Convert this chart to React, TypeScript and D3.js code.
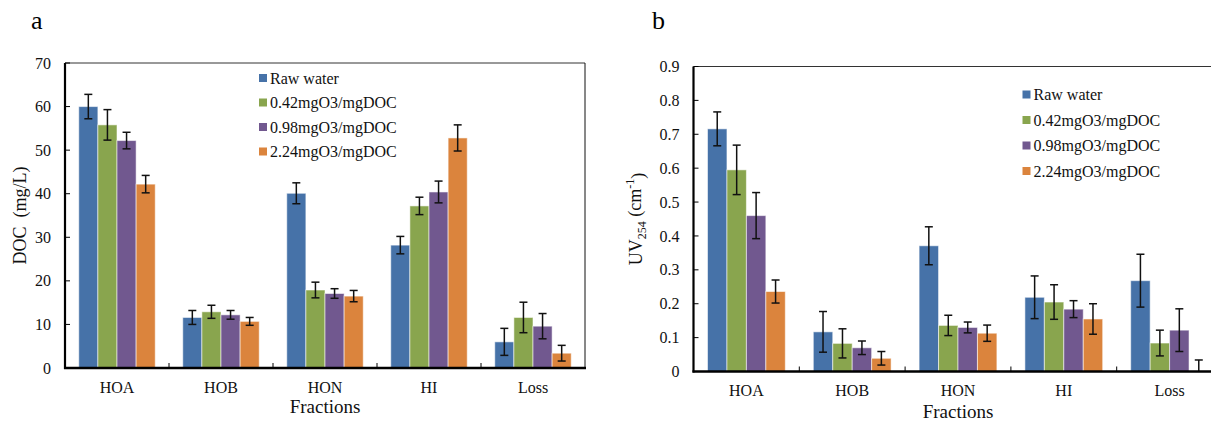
import React, { useEffect, useRef } from "react";
import * as d3 from "d3";

const categories = ["HOA", "HOB", "HON", "HI", "Loss"];
const seriesNames = [
  "Raw water",
  "0.42mgO3/mgDOC",
  "0.98mgO3/mgDOC",
  "2.24mgO3/mgDOC",
];
const seriesColors = ["#4672a8", "#89a54e", "#71588f", "#db843d"];

// panel a: DOC (mg/L), one row per series, one value per category
const docValues = [
  [60.0, 11.6, 40.1, 28.2, 6.0],
  [55.8, 12.9, 17.9, 37.2, 11.6],
  [52.2, 12.2, 17.1, 40.4, 9.6],
  [42.2, 10.7, 16.5, 52.8, 3.4],
];
const docErrors = [
  [2.8, 1.6, 2.4, 2.0, 3.1],
  [3.5, 1.5, 1.8, 2.0, 3.5],
  [1.9, 1.0, 1.1, 2.5, 2.9],
  [2.0, 0.9, 1.3, 3.0, 1.8],
];
const docTicks = [0, 10, 20, 30, 40, 50, 60, 70];

// panel b: UV254 (cm-1)
const uvValues = [
  [0.716, 0.117, 0.371, 0.219, 0.268],
  [0.595, 0.083, 0.136, 0.205, 0.084],
  [0.46, 0.07, 0.13, 0.184, 0.122],
  [0.236, 0.039, 0.113, 0.155, 0.0],
];
const uvErrors = [
  [0.05, 0.06, 0.056, 0.063, 0.078],
  [0.073, 0.043, 0.03, 0.051, 0.038],
  [0.068, 0.02, 0.016, 0.025, 0.063],
  [0.034, 0.02, 0.024, 0.045, 0.034],
];
const uvTicks = [0, 0.1, 0.2, 0.3, 0.4, 0.5, 0.6, 0.7, 0.8, 0.9];

const FONT = "'Liberation Serif', 'Times New Roman', serif";

type Panel = {
  left: number;
  top: number;
  width: number;
  height: number;
  values: number[][];
  errors: number[][];
  ticks: number[];
  tickFormat: (d: number) => string;
  letter: string;
  letterX: number;
  letterY: number;
  legendX: number;
  legendY: number;
  legendStep: number;
  labelX: number;
  rightBorder: boolean;
  fractionsDy: number;
  yLabel: (t: d3.Selection<SVGTextElement, unknown, null, undefined>) => void;
};

function drawPanel(svg: d3.Selection<SVGSVGElement, unknown, null, undefined>, p: Panel) {
  const g = svg.append("g").attr("transform", `translate(${p.left},${p.top})`);

  const x0 = d3.scaleBand<string>().domain(categories).range([0, p.width]);
  const x1 = d3
    .scaleBand<string>()
    .domain(seriesNames)
    .range([0, x0.bandwidth()])
    .paddingInner(0)
    .paddingOuter(0.72);
  const yMax = p.ticks[p.ticks.length - 1];
  const y = d3.scaleLinear().domain([0, yMax]).range([p.height, 0]);

  // bars
  seriesNames.forEach((name, si) => {
    g.append("g")
      .selectAll("rect")
      .data(categories)
      .enter()
      .append("rect")
      .attr("x", (c) => (x0(c) as number) + (x1(name) as number))
      .attr("y", (c, ci) => y(p.values[si][ci]))
      .attr("width", x1.bandwidth())
      .attr("height", (c, ci) => p.height - y(p.values[si][ci]))
      .attr("fill", seriesColors[si])
      .attr("stroke", "rgba(255,255,255,0.55)")
      .attr("stroke-width", 1);
  });

  // error bars
  seriesNames.forEach((name, si) => {
    const eg = g.append("g").attr("stroke", "#111").attr("stroke-width", 1.5);
    categories.forEach((c, ci) => {
      const cx = (x0(c) as number) + (x1(name) as number) + x1.bandwidth() / 2;
      const v = p.values[si][ci];
      const e = p.errors[si][ci];
      const yt = y(v + e);
      const yb = y(Math.max(0, v - e));
      eg.append("line").attr("x1", cx).attr("x2", cx).attr("y1", yt).attr("y2", yb);
      eg.append("line").attr("x1", cx - 4).attr("x2", cx + 4).attr("y1", yt).attr("y2", yt);
      if (v - e > 0) {
        eg.append("line").attr("x1", cx - 4).attr("x2", cx + 4).attr("y1", yb).attr("y2", yb);
      }
    });
  });

  // frame: thin top / right, heavy left / bottom
  g.append("line")
    .attr("x1", 0)
    .attr("x2", p.width)
    .attr("y1", 0)
    .attr("y2", 0)
    .attr("stroke", "#333")
    .attr("stroke-width", 1);
  if (p.rightBorder) {
    g.append("line")
      .attr("x1", p.width)
      .attr("x2", p.width)
      .attr("y1", 0)
      .attr("y2", p.height)
      .attr("stroke", "#111")
      .attr("stroke-width", 1);
  }

  // y ticks (inward) and labels
  g.selectAll(".ytick")
    .data(p.ticks)
    .enter()
    .append("line")
    .attr("x1", 0)
    .attr("x2", 5)
    .attr("y1", (d) => y(d))
    .attr("y2", (d) => y(d))
    .attr("stroke", "#000")
    .attr("stroke-width", 1);
  g.selectAll(".ylab")
    .data(p.ticks)
    .enter()
    .append("text")
    .attr("x", -14)
    .attr("y", (d) => y(d))
    .attr("dy", "0.35em")
    .attr("text-anchor", "end")
    .style("font-family", FONT)
    .style("font-size", "16px")
    .attr("fill", "#111")
    .text((d) => p.tickFormat(d));

  // x category boundary ticks (inward)
  g.selectAll(".xtick")
    .data(categories.slice(1))
    .enter()
    .append("line")
    .attr("x1", (c) => x0(c) as number)
    .attr("x2", (c) => x0(c) as number)
    .attr("y1", p.height)
    .attr("y2", p.height - 5)
    .attr("stroke", "#000")
    .attr("stroke-width", 1);
  g.selectAll(".xlab")
    .data(categories)
    .enter()
    .append("text")
    .attr("x", (c) => (x0(c) as number) + x0.bandwidth() / 2)
    .attr("y", p.height + 19)
    .attr("dy", "0.35em")
    .attr("text-anchor", "middle")
    .style("font-family", FONT)
    .style("font-size", "16px")
    .attr("fill", "#111")
    .text((c) => c);

  // axis lines
  g.append("line")
    .attr("x1", 0)
    .attr("x2", 0)
    .attr("y1", 0)
    .attr("y2", p.height + 1)
    .attr("stroke", "#000")
    .attr("stroke-width", 2.2);
  g.append("line")
    .attr("x1", -1)
    .attr("x2", p.width + 1)
    .attr("y1", p.height)
    .attr("y2", p.height)
    .attr("stroke", "#000")
    .attr("stroke-width", 2.4);

  // x title
  g.append("text")
    .attr("x", p.width / 2)
    .attr("y", p.height + p.fractionsDy)
    .attr("dy", "0.35em")
    .attr("text-anchor", "middle")
    .style("font-family", FONT)
    .style("font-size", "19px")
    .attr("fill", "#111")
    .text("Fractions");

  // y title
  const yt = svg
    .append("text")
    .attr("transform", `translate(${p.labelX},${p.top + p.height / 2}) rotate(-90)`)
    .attr("text-anchor", "middle")
    .attr("dy", "0.35em")
    .style("font-family", FONT)
    .style("font-size", "18px")
    .attr("fill", "#111");
  p.yLabel(yt);

  // panel letter
  svg
    .append("text")
    .attr("x", p.letterX)
    .attr("y", p.letterY)
    .style("font-family", FONT)
    .style("font-size", "26px")
    .attr("fill", "#000")
    .text(p.letter);

  // legend
  const lg = g.append("g").attr("transform", `translate(${p.legendX},${p.legendY})`);
  seriesNames.forEach((name, si) => {
    const row = lg.append("g").attr("transform", `translate(0,${si * p.legendStep})`);
    row.append("rect").attr("x", 0).attr("y", -4).attr("width", 8).attr("height", 8).attr("fill", seriesColors[si]);
    row
      .append("text")
      .attr("x", 11)
      .attr("y", 0)
      .attr("dy", "0.35em")
      .style("font-family", FONT)
      .style("font-size", "16px")
      .attr("fill", "#111")
      .text(name);
  });
}

const App = () => {
  const ref = useRef<SVGSVGElement | null>(null);

  useEffect(() => {
    if (!ref.current) return;
    const svg = d3.select(ref.current);
    svg.selectAll("*").remove();

    drawPanel(svg, {
      left: 65,
      top: 63,
      width: 520,
      height: 305,
      values: docValues,
      errors: docErrors,
      ticks: docTicks,
      tickFormat: (d) => String(d),
      letter: "a",
      letterX: 31,
      letterY: 29,
      legendX: 194,
      legendY: 15,
      legendStep: 24.5,
      labelX: 20,
      rightBorder: true,
      fractionsDy: 38,
      yLabel: (t) => t.text("DOC\u2002(mg/L)"),
    });

    drawPanel(svg, {
      left: 693.5,
      top: 66.5,
      width: 529,
      height: 305,
      values: uvValues,
      errors: uvErrors,
      ticks: uvTicks,
      tickFormat: (d) => (d === 0 ? "0" : d3.format(".1f")(d)),
      letter: "b",
      letterX: 652,
      letterY: 29,
      legendX: 329,
      legendY: 28,
      legendStep: 25.5,
      labelX: 636,
      rightBorder: true,
      fractionsDy: 40,
      yLabel: (t) => {
        t.append("tspan").text("UV");
        t.append("tspan").attr("dy", "0.3em").style("font-size", "12px").text("254");
        t.append("tspan").attr("dy", "-0.3em").text(" (cm");
        t.append("tspan").attr("dy", "-0.55em").style("font-size", "12px").text("-1");
        t.append("tspan").attr("dy", "0.55em").text(")");
      },
    });
  }, []);

  return (
    <svg
      ref={ref}
      width={1211}
      height={422}
      style={{ position: "absolute", left: 0, top: 0, background: "#fff" }}
    />
  );
};

export default App;
